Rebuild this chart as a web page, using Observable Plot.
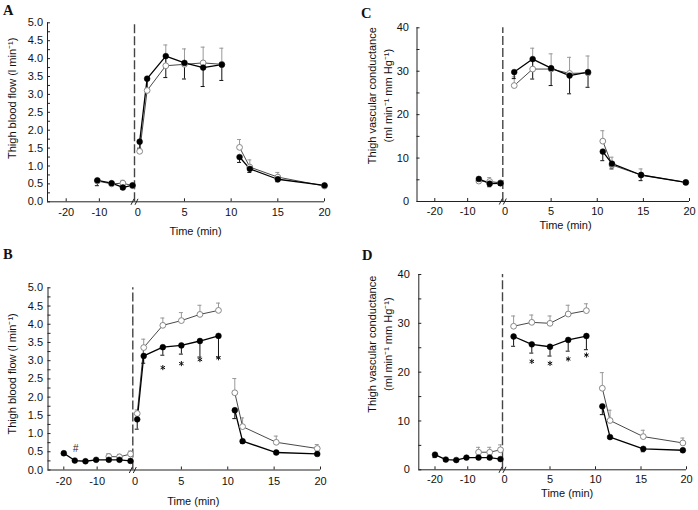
<!DOCTYPE html>
<html><head><meta charset="utf-8">
<script src="https://cdn.jsdelivr.net/npm/d3@7"></script>
<script src="https://cdn.jsdelivr.net/npm/@observablehq/plot@0.6"></script>
<style>
body{margin:0;background:#fff;}
#wrap{position:relative;width:698px;height:510px;overflow:hidden;background:#fff;}
.panel{position:absolute;}
.letter{position:absolute;font-family:"Liberation Serif","Times New Roman",serif;font-weight:bold;font-size:14.5px;line-height:1;color:#111;}
</style></head><body><div id="wrap"></div>
<script>
// ---------- tick labels ----------
const preTickLabels = [-20, -10];
const postTickLabels = [0, 5, 10, 15, 20];
const flowTicks = [0, 0.5, 1, 1.5, 2, 2.5, 3, 3.5, 4, 4.5, 5];
const flowMinor = [0.25, 0.75, 1.25, 1.75, 2.25, 2.75, 3.25, 3.75, 4.25, 4.75];
const condTicks = [0, 10, 20, 30, 40];
const condMinor = [5, 15, 25, 35];

// ---------- Panel A : thigh blood flow ----------
const A_preTime = [-10.6, -6.3, -2.9, 0];
const A_exTime = [0.2, 1, 3, 5, 7, 9];
const A_recTime = [10.9, 12, 15, 20];
const A_filled = [0.6, 0.52, 0.4, 0.46, 1.68, 3.44, 4.07, 3.88, 3.75, 3.83, 1.25, 0.92, 0.63, 0.46];
const A_filledErr = [0.15, 0.06, 0.05, 0.05, 0.2, 0.3, 0.6, 0.45, 0.53, 0.44, 0.15, 0.1, 0.07, 0.03];
const A_open = [0.58, 0.5, 0.52, 0.45, 1.41, 3.11, 3.8, 3.84, 3.88, 3.84, 1.52, 0.97, 0.69, 0.44];
const A_openErr = [0.05, 0.05, 0.08, 0.05, 0.1, 0.3, 0.58, 0.43, 0.44, 0.45, 0.22, 0.2, 0.13, 0.03];

// ---------- Panel B : thigh blood flow ----------
const B_preTime = [-20, -16.7, -13.5, -10.3, -6.5, -3.3, 0];
const B_exTime = [0.24, 0.94, 3, 5, 7, 9];
const B_recTime = [10.76, 11.6, 15.23, 19.65];
const B_filled = [0.46, 0.26, 0.24, 0.28, 0.28, 0.28, 0.25, 1.39, 3.13, 3.37, 3.42, 3.54, 3.68, 1.64, 0.79, 0.48, 0.44];
const B_filledErr = [0.04, 0.03, 0.03, 0.03, 0.03, 0.03, 0.03, 0.27, 0.2, 0.22, 0.24, 0.44, 0.58, 0.23, 0.05, 0.04, 0.03];
const B_open = [null, null, null, null, 0.37, 0.36, 0.44, 1.55, 3.36, 3.97, 4.1, 4.27, 4.38, 2.12, 1.19, 0.76, 0.59];
const B_openErr = [null, null, null, null, 0.08, 0.07, 0.08, 0.1, 0.23, 0.2, 0.22, 0.25, 0.2, 0.39, 0.24, 0.17, 0.11];
const B_starTime = [3, 5, 7, 9];
const B_starY = [2.81, 2.92, 3.03, 3.08];
const B_hashTime = [-16.5];
const B_hashY = [0.58];

// ---------- Panel C : thigh vascular conductance ----------
const C_preTime = [-6.6, -3.3, 0];
const C_exTime = [1, 3, 5, 7, 9];
const C_recTime = [10.6, 11.6, 14.75, 19.6];
const C_filled = [5.2, 4.1, 4.2, 29.8, 32.8, 30.7, 29.0, 29.8, 11.5, 8.7, 6.1, 4.4];
const C_filledErr = [0.8, 0.7, 0.5, 1.5, 4.6, 4.0, 4.2, 3.5, 2.1, 1.2, 1.3, 0.4];
const C_open = [4.7, 4.6, 4.3, 26.7, 30.5, 30.5, 29.5, 29.6, 13.9, 8.4, 6.1, 4.4];
const C_openErr = [0.5, 0.9, 0.5, 2.0, 4.8, 3.5, 3.7, 3.9, 2.4, 1.8, 1.4, 0.4];

// ---------- Panel D : thigh vascular conductance ----------
const D_preTime = [-20, -16.7, -13.5, -10.4, -6.7, -3.3, 0];
const D_exTime = [1, 3, 5, 7, 9];
const D_recTime = [10.75, 11.6, 15.25, 19.6];
const D_filled = [3.1, 2.1, 2.0, 2.5, 2.5, 2.5, 2.2, 27.3, 25.7, 25.2, 26.6, 27.4, 13.0, 6.7, 4.3, 4.0];
const D_filledErr = [0.6, 0.3, 0.3, 0.3, 0.3, 0.3, 0.3, 2.0, 1.8, 1.9, 2.3, 2.8, 1.7, 0.3, 0.6, 0.3];
const D_open = [null, null, null, null, 3.6, 3.6, 4.1, 29.4, 30.2, 30.0, 31.9, 32.6, 16.7, 10.1, 6.8, 5.5];
const D_openErr = [null, null, null, null, 1.0, 1.0, 1.0, 2.1, 1.5, 1.5, 1.8, 1.4, 3.2, 2.1, 1.3, 1.0];
const D_starTime = [3, 5, 7, 9];
const D_starY = [22.2, 21.8, 22.7, 23.5];

// ---------- layout ----------
const FONT = "'Liberation Sans', Arial, Helvetica, sans-serif";
const SH = 2; // offset separating the pre-exercise axis segment from the exercise segment
const flowTitle = "Thigh blood flow (l min\u207B\u00B9)";
const condTitle = "Thigh vascular conductance\n(ml min\u207B\u00B9 mm Hg\u207B\u00B9)";

// axis-break glyph: two short parallel slashes
const breakSymbol = {
  draw(context) {
    context.moveTo(-3.5, 3); context.lineTo(-0.5, -3);
    context.moveTo(0.5, 3); context.lineTo(3.5, -3);
  }
};

function buildRows(pre, ex, rec, filled, filledErr, open, openErr) {
  const times = [...pre, ...ex, ...rec];
  const phases = [...pre.map(() => "pre"), ...ex.map(() => "ex"), ...rec.map(() => "rec")];
  return times.map((t, i) => ({
    t, phase: phases[i], u: phases[i] === "pre" ? t - SH : t,
    f: filled[i], fe: filledErr[i], o: open[i], oe: openErr[i]
  }));
}

function drawPanel(cfg, rows, extras) {
  const kL = (cfg.p0L - cfg.p20L) / 20;
  const uAx = -SH - (cfg.p0L - cfg.axL) / kL;
  const uBrk = -SH + (cfg.brk - cfg.p0L) / kL;
  const xTicksU = [...preTickLabels.map(t => t - SH), ...postTickLabels];
  const xTickText = [...preTickLabels, ...postTickLabels].map(String);
  const fmtX = u => xTickText[xTicksU.indexOf(u)];
  const tickMarksU = [...preTickLabels.map(t => t - SH), ...postTickLabels.filter(t => t > 0)];
  const openRows = rows.filter(r => r.o != null);
  const ax = "#222";
  const marks = [
    // axis lines
    Plot.ruleY([0], {stroke: ax, strokeWidth: 1}),
    Plot.ruleX([uAx], {stroke: ax, strokeWidth: 1}),
    // inward ticks
    Plot.ruleY([...cfg.yMajor, ...cfg.yMinor], {y: d => d, x1: () => uAx, x2: () => uAx, insetRight: -3, stroke: ax}),
    Plot.ruleX(tickMarksU, {x: d => d, y1: () => 0, y2: () => 0, insetBottom: 3, stroke: ax}),
    Plot.axisY({ticks: cfg.yMajor, tickSize: 0, tickPadding: cfg.yPad, tickFormat: cfg.yFmt, label: null}),
    Plot.axisX({ticks: xTicksU, tickSize: 0, tickPadding: cfg.xPad, tickFormat: fmtX, label: null}),
    // dashed onset line & axis break
    Plot.ruleX([uBrk], {y1: () => 0, y2: () => cfg.yMax, stroke: "#444", strokeWidth: 1.4, strokeDasharray: "9,3"}),
    Plot.dot([uBrk], {x: d => d, y: () => 0, symbol: breakSymbol, r: 3, stroke: ax, strokeWidth: 1, fill: "none"}),
    // error bars (open: up, grey; filled: down, black)
    Plot.ruleX(openRows, {x: "u", y1: "o", y2: d => d.o + d.oe, stroke: "#999", strokeWidth: 1}),
    Plot.ruleY(openRows, {y: d => d.o + d.oe, x1: "u", x2: "u", insetLeft: -2, insetRight: -2, stroke: "#999"}),
    Plot.ruleX(rows, {x: "u", y1: d => d.f - d.fe, y2: "f", stroke: "#111", strokeWidth: 1}),
    Plot.ruleY(rows, {y: d => d.f - d.fe, x1: "u", x2: "u", insetLeft: -2, insetRight: -2, stroke: "#111"}),
    // lines
    Plot.line(openRows, {x: "u", y: "o", z: "phase", stroke: "#333", strokeWidth: 0.9}),
    Plot.line(rows, {x: "u", y: "f", z: "phase", stroke: "#000", strokeWidth: 1.3}),
    // points
    Plot.dot(openRows, {x: "u", y: "o", r: 2.9, fill: "white", stroke: "#888", strokeWidth: 1}),
    Plot.dot(rows, {x: "u", y: "f", r: 2.9, fill: "#000", stroke: "#000", strokeWidth: 0.5}),
    // titles
    Plot.text([cfg.title], {frameAnchor: "left", rotate: -90, textAnchor: "middle", lineAnchor: "middle", lineHeight: 1.4, dx: cfg.titleDx, dy: cfg.titleDy, fontSize: 11, fill: "#111"}),
    Plot.text(["Time (min)"], {frameAnchor: "bottom", textAnchor: "middle", lineAnchor: "middle", dx: cfg.timeDx, dy: cfg.timeDy, fontSize: 11, fill: "#111"}),
    ...extras
  ];
  const svg = Plot.plot({
    width: cfg.width, height: cfg.height,
    marginLeft: cfg.axL, marginRight: cfg.width - cfg.p20R,
    marginTop: cfg.yTop, marginBottom: cfg.height - cfg.y0,
    style: {fontFamily: FONT, fontSize: "11px", color: "#111", background: "white", overflow: "visible"},
    x: {type: "linear", domain: [uAx, uBrk, 0, 20], range: [cfg.axL, cfg.brk, cfg.p0R, cfg.p20R]},
    y: {type: "linear", domain: [0, cfg.yMax], range: [cfg.y0, cfg.yTop]},
    marks
  });
  const holder = document.createElement("div");
  holder.className = "panel";
  holder.style.left = cfg.left + "px";
  holder.style.top = cfg.top + "px";
  holder.appendChild(svg);
  document.getElementById("wrap").appendChild(holder);
}

function starMarks(times, ys) {
  return [Plot.dot(times, {x: (d) => d, y: (d, i) => ys[i], symbol: "asterisk", r: 2.4, stroke: "#111", strokeWidth: 1})];
}

const cfgA = {left: 0, top: 0, width: 349, height: 255, axL: 47, p20L: 65.7, p0L: 132, brk: 134, p0R: 137.3, p20R: 324,
  y0: 201.3, yTop: 22.3, yMax: 5, yMajor: flowTicks, yMinor: flowMinor, yFmt: d3.format(".1f"), yPad: 4.5, xPad: 6.5,
  title: flowTitle, titleDx: -36, titleDy: -14, timeDx: 9.5, timeDy: 29.4};
const cfgB = {left: 0, top: 255, width: 349, height: 255, axL: 47.5, p20L: 63.3, p0L: 130, brk: 132.3, p0R: 134.5, p20R: 320,
  y0: 214.5, yTop: 32.3, yMax: 5, yMajor: flowTicks, yMinor: flowMinor, yFmt: d3.format(".1f"), yPad: 5, xPad: 7,
  title: flowTitle, titleDx: -36.5, titleDy: -5, timeDx: 9, timeDy: 31.2};
const cfgC = {left: 350, top: 0, width: 348, height: 255, axL: 66.5, p20L: 84.3, p0L: 150, brk: 152.3, p0R: 154.5, p20R: 339,
  y0: 201, yTop: 27.3, yMax: 40, yMajor: condTicks, yMinor: condMinor, yFmt: d => String(d), yPad: 8, xPad: 6,
  title: condTitle, titleDx: -38, titleDy: -19, timeDx: 12.25, timeDy: 23.5};
const cfgD = {left: 350, top: 255, width: 348, height: 255, axL: 68.3, p20L: 84.5, p0L: 150, brk: 152, p0R: 154, p20R: 336,
  y0: 214.3, yTop: 19, yMax: 40, yMajor: condTicks, yMinor: condMinor, yFmt: d => String(d), yPad: 9, xPad: 5.5,
  title: condTitle, titleDx: -39.6, titleDy: -28, timeDx: 14.5, timeDy: 23.5};

drawPanel(cfgA, buildRows(A_preTime, A_exTime, A_recTime, A_filled, A_filledErr, A_open, A_openErr), []);
drawPanel(cfgB, buildRows(B_preTime, B_exTime, B_recTime, B_filled, B_filledErr, B_open, B_openErr), [
  ...starMarks(B_starTime, B_starY),
  Plot.text(B_hashTime, {x: d => d - SH, y: (d, i) => B_hashY[i], text: () => "#", fontSize: 10, fontStyle: "italic", lineAnchor: "middle", fill: "#222"})
]);
drawPanel(cfgC, buildRows(C_preTime, C_exTime, C_recTime, C_filled, C_filledErr, C_open, C_openErr), []);
drawPanel(cfgD, buildRows(D_preTime, D_exTime, D_recTime, D_filled, D_filledErr, D_open, D_openErr), starMarks(D_starTime, D_starY));

// panel letters
[["A", 3, 2.5], ["B", 3, 247], ["C", 361, 6], ["D", 362, 248]].forEach(([t, x, y]) => {
  const d = document.createElement("div");
  d.className = "letter"; d.textContent = t;
  d.style.left = x + "px"; d.style.top = y + "px";
  document.getElementById("wrap").appendChild(d);
});
</script></body></html>
